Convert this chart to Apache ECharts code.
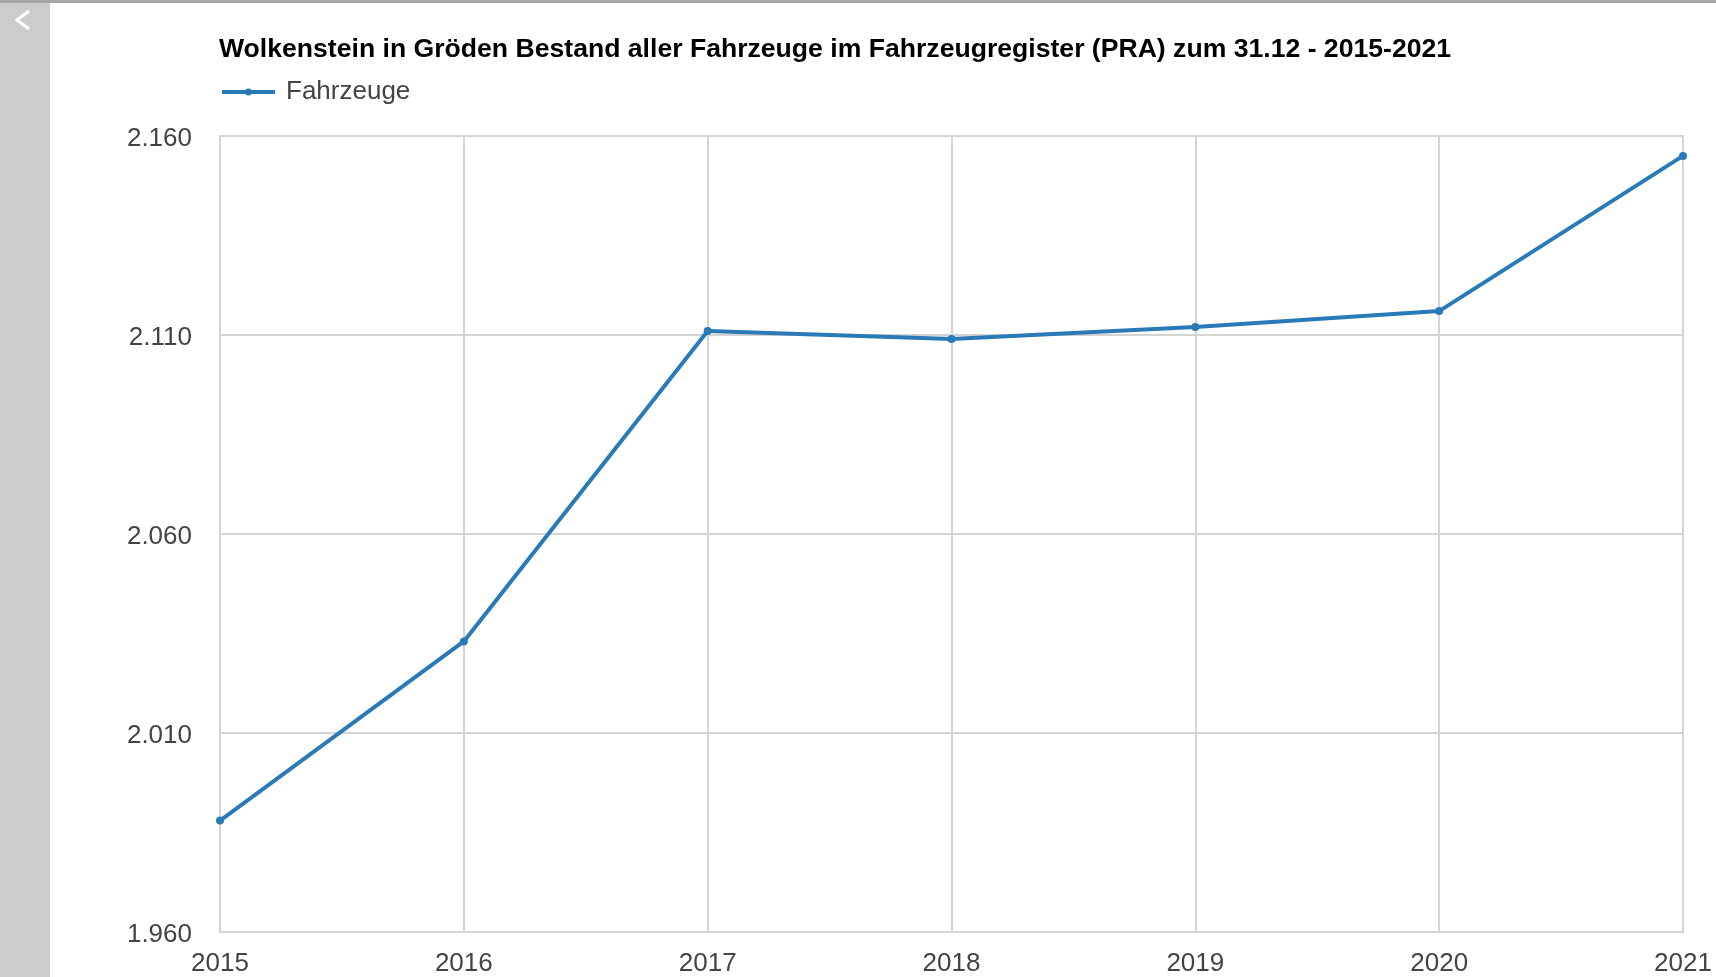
<!DOCTYPE html>
<html>
<head>
<meta charset="utf-8">
<title>Wolkenstein in Gröden Fahrzeuge</title>
<style>
	html, body {
		margin: 0;
		padding: 0;
		background: #ffffff;
	}

	#main {
		width: 1716px;
		height: 977px;
	}
</style>
</head>
<body>
<div id="main"></div>
<script src="https://cdn.jsdelivr.net/npm/echarts@6/dist/echarts.min.js"></script>
<script>
	// Daten
	var years = ['2015', '2016', '2017', '2018', '2019', '2020', '2021'];
	var fahrzeuge = [1988, 2033, 2111, 2109, 2112, 2116, 2155];
	var yMin = 1960;
	var yMax = 2160;
	var yStep = 50;

	var titleText = 'Wolkenstein in Gröden Bestand aller Fahrzeuge im Fahrzeugregister (PRA) zum 31.12 - 2015-2021';
	var seriesName = 'Fahrzeuge';

	var fontFamily = 'Arial, "Liberation Sans", sans-serif';
	var gridColor = '#d4d4d4';
	var lineColor = '#2a7ab8';

	// Tausendertrennzeichen mit Punkt
	function formatNum(v) {
		return '{n|' + String(v).replace(/\B(?=(\d{3})+(?!\d))/g, '.') + '}';
	}

	var myChart = echarts.init(document.getElementById('main'));

	var option = {
		animation: false,
		title: {
			text: titleText,
			left: 219,
			top: 36,
			padding: 0,
			textStyle: {
				fontFamily: fontFamily,
				fontSize: 26.6,
				fontWeight: 'bold',
				color: '#000000'
			}
		},
		legend: {
			data: [seriesName],
			left: 220,
			top: 79,
			padding: 0,
			itemWidth: 53,
			itemHeight: 9,
			itemGap: 10,
			lineStyle: { width: 4 },
			textStyle: {
				fontFamily: fontFamily,
				fontSize: 26,
				color: '#444444',
				padding: [0, 0, 0, 6]
			}
		},
		grid: {
			left: 220,
			right: 33,
			top: 136,
			bottom: 44,
			show: true,
			borderColor: gridColor,
			borderWidth: 2,
			containLabel: false
		},
		xAxis: {
			type: 'category',
			data: years,
			boundaryGap: false,
			axisLine: {
				show: true,
				lineStyle: { color: gridColor, width: 2 }
			},
			axisTick: { show: false },
			axisLabel: {
				margin: 19,
				fontFamily: fontFamily,
				fontSize: 26,
				color: '#444444',
				showMaxLabel: true,
				showMinLabel: true
			},
			splitLine: {
				show: true,
				lineStyle: { color: gridColor, width: 2 }
			}
		},
		yAxis: {
			type: 'value',
			min: yMin,
			max: yMax,
			interval: yStep,
			axisLine: { show: false },
			axisTick: { show: false },
			axisLabel: {
				margin: 28,
				formatter: formatNum,
				rich: {
					n: {
						fontFamily: fontFamily,
						fontSize: 26,
						color: '#444444',
						padding: [6, 0, 0, 0]
					}
				}
			},
			splitLine: {
				show: true,
				lineStyle: { color: gridColor, width: 2 }
			}
		},
		series: [{
			name: seriesName,
			type: 'line',
			data: fahrzeuge,
			symbol: 'circle',
			symbolSize: 8,
			showSymbol: true,
			itemStyle: { color: lineColor },
			lineStyle: { color: lineColor, width: 4 }
		}],
		graphic: [
			// graue Leiste oben
			{
				type: 'rect',
				shape: { x: 0, y: 0, width: 1716, height: 3 },
				style: { fill: '#a6a6a6' },
				z: 100
			},
			// graue Seitenleiste links
			{
				type: 'rect',
				shape: { x: 0, y: 3, width: 50, height: 974 },
				style: { fill: '#cccccc' },
				z: 100
			},
			{
				type: 'polyline',
				shape: { points: [[29, 11], [17, 20], [29, 29]] },
				style: { stroke: '#ffffff', lineWidth: 3, fill: null },
				z: 101
			}
		]
	};

	myChart.setOption(option);
</script>
</body>
</html>
